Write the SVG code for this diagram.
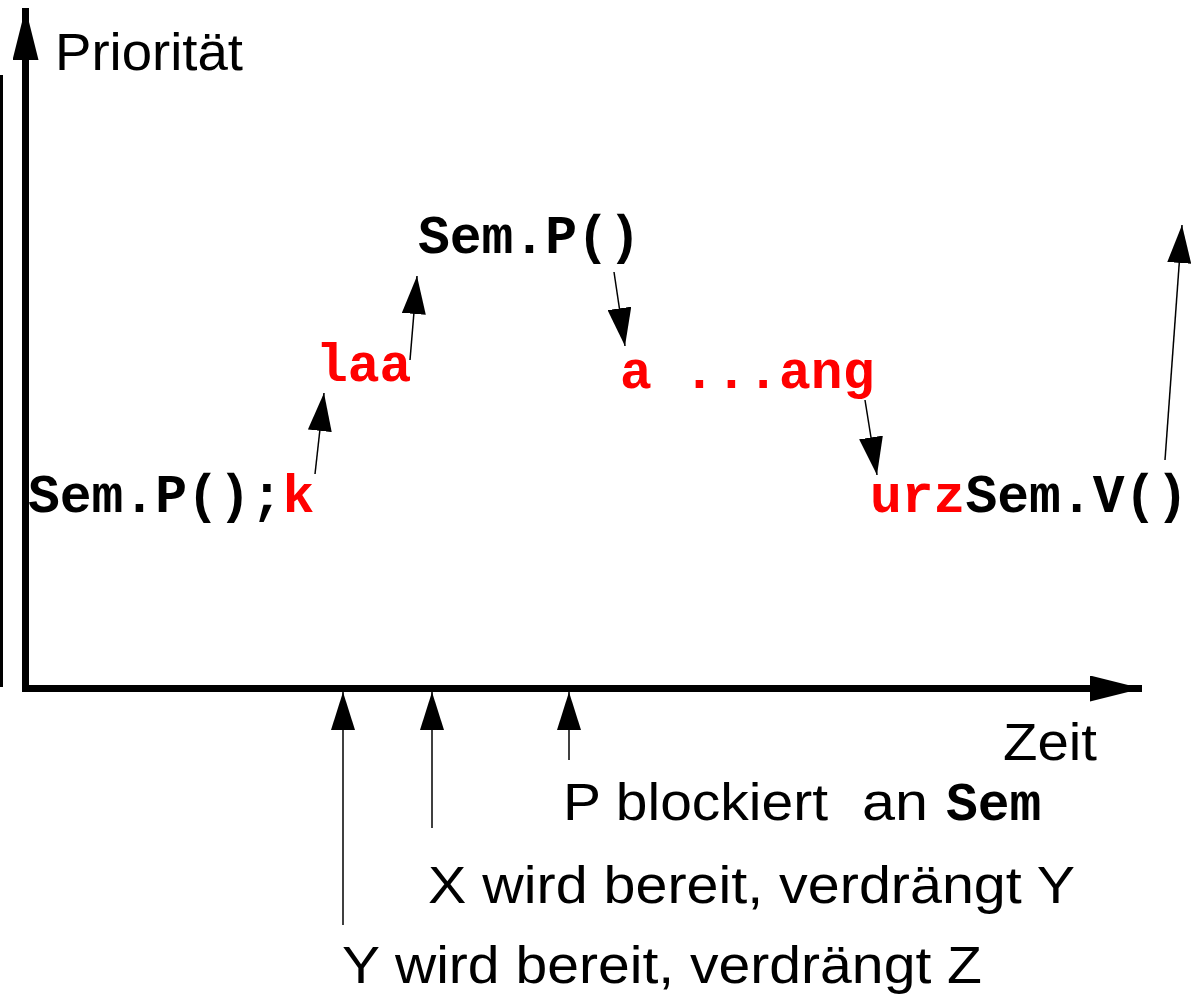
<svg xmlns="http://www.w3.org/2000/svg" width="1192" height="995" viewBox="0 0 1192 995">
  <style>
    .code { font-family: "Liberation Mono", "Courier New", monospace; font-weight: bold; font-size: 53px; fill: #000; }
    .red { fill: #ff0000; }
    .label { font-family: "Liberation Sans", "DejaVu Sans", sans-serif; font-size: 51px; fill: #000; }
    .thin { stroke: #000; stroke-width: 1.5; fill: none; marker-end: url(#head); }
    .axis { stroke: #000; stroke-width: 7; fill: none; }
  </style>
  <defs>
    <marker id="head" viewBox="0 0 38 24" refX="38" refY="12" markerWidth="38" markerHeight="24" markerUnits="userSpaceOnUse" orient="auto">
      <path d="M0,0 L38,12 L0,24 z" fill="#000"/>
    </marker>
    <marker id="axisHead" viewBox="0 0 52 26" refX="52" refY="13" markerWidth="52" markerHeight="26" markerUnits="userSpaceOnUse" orient="auto">
      <path d="M0,0 L52,13 L0,26 z" fill="#000"/>
    </marker>
  </defs>

  <!-- frame line and axes -->
  <g id="axes">
    <line x1="1.5" y1="75" x2="1.5" y2="687" stroke="#000" stroke-width="3"/>
    <line class="axis" x1="25.5" y1="692" x2="25.5" y2="8" marker-end="url(#axisHead)"/>
    <line class="axis" x1="22" y1="688.5" x2="1142" y2="688.5" marker-end="url(#axisHead)"/>
    <text class="label" x="55" y="70" textLength="188" lengthAdjust="spacingAndGlyphs">Priorität</text>
    <text class="label" x="1003" y="760" textLength="94" lengthAdjust="spacingAndGlyphs">Zeit</text>
  </g>

  <!-- code steps -->
  <g id="step1"><text class="code" x="28" y="512">Sem.P();<tspan class="red">k</tspan></text></g>
  <g id="step2"><text class="code red" x="316" y="381">laa</text></g>
  <g id="step3"><text class="code" x="418" y="253">Sem.P()</text></g>
  <g id="step4"><text class="code red" x="620" y="388">a ...ang</text></g>
  <g id="step5"><text class="code" x="870" y="512"><tspan class="red">urz</tspan>Sem.V()</text></g>

  <!-- events on the time axis -->
  <g id="event-p">
    <text class="label" x="563" y="820" textLength="265" lengthAdjust="spacingAndGlyphs">P blockiert</text>
    <text class="label" x="862" y="820" textLength="66" lengthAdjust="spacingAndGlyphs">an</text>
    <text class="code" x="946" y="820" font-size="46">Sem</text>
  </g>
  <g id="event-x"><text class="label" x="428" y="903" textLength="647" lengthAdjust="spacingAndGlyphs">X wird bereit, verdrängt Y</text></g>
  <g id="event-y"><text class="label" x="342" y="983" textLength="640" lengthAdjust="spacingAndGlyphs">Y wird bereit, verdrängt Z</text></g>

  <!-- connectors -->
  <g id="connectors">
    <line class="thin" x1="315" y1="474" x2="324" y2="393"/>
    <line class="thin" x1="410" y1="360" x2="417" y2="276"/>
    <line class="thin" x1="614" y1="272" x2="625" y2="346"/>
    <line class="thin" x1="865" y1="400" x2="877" y2="475"/>
    <line class="thin" x1="1165" y1="460" x2="1182" y2="225"/>
    <line class="thin" x1="343" y1="925" x2="343" y2="692"/>
    <line class="thin" x1="432" y1="828" x2="432" y2="692"/>
    <line class="thin" x1="569" y1="760" x2="569" y2="692"/>
  </g>
</svg>
